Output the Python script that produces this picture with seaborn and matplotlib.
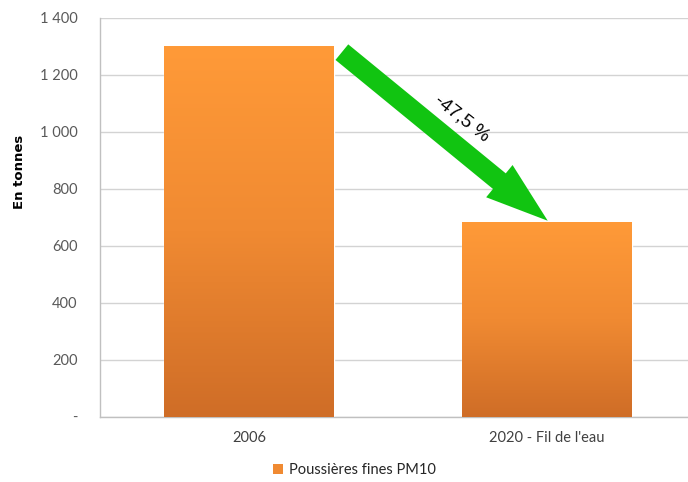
import numpy as np
import pandas as pd
import matplotlib
matplotlib.use("Agg")
import matplotlib.pyplot as plt
import matplotlib.colors as mcolors
from matplotlib.patches import FancyArrowPatch, Patch
from matplotlib.ticker import FuncFormatter
import seaborn as sns

categories = ["2006", "2020 - Fil de l'eau"]
emissions = [1300, 682.5]
series_name = "Poussières fines PM10"
change_label = "-47,5 %"
y_ticks = [0, 200, 400, 600, 800, 1000, 1200, 1400]

sns.set_style("white")
plt.rcParams["font.family"] = ["Lato", "DejaVu Sans"]

fig = plt.figure(figsize=(6.88, 4.82), dpi=100)
ax = fig.add_axes([0.1453, 0.1355, 0.866, 0.8272])

df = pd.DataFrame({"cat": categories, "val": emissions})
sns.barplot(data=df, x="cat", y="val", color="#F7923A", width=0.57,
            saturation=1, ax=ax, zorder=2)

ax.set_xlim(-0.5, 1.5)
ax.set_ylim(0, 1400)
ax.set_yticks(y_ticks)
ax.yaxis.set_major_formatter(
    FuncFormatter(lambda v, p: "-" if v == 0 else f"{int(v):,}".replace(",", " ")))
ax.grid(axis="y", color="#D3D3D3", lw=1, zorder=0)
ax.set_axisbelow(True)
ax.tick_params(axis="both", length=0, labelsize=10.5, colors="#595959")
ax.tick_params(axis="x", pad=10, colors="#404040", labelsize=10.5)
ax.tick_params(axis="y", pad=16)
for s in ["top", "right"]:
    ax.spines[s].set_visible(False)
for s in ["left", "bottom"]:
    ax.spines[s].set_color("#C0C0C0")
    ax.spines[s].set_linewidth(1)
ax.set_xlabel("")
ax.set_ylabel("En tonnes", fontsize=9.5, fontweight="bold", color="black",
              family=["DejaVu Sans"])
ax.yaxis.set_label_coords(-0.124, 0.615)

# vertical orange gradient inside each bar
cmap = mcolors.LinearSegmentedColormap.from_list("bar", ["#CF6D27", "#F08A32", "#FF9A38"])
grad = np.linspace(0, 1, 256).reshape(-1, 1)
for patch in list(ax.patches):
    x0, y0 = patch.get_x(), patch.get_y()
    w, h = patch.get_width(), patch.get_height()
    im = ax.imshow(grad, cmap=cmap, origin="lower", aspect="auto",
                   extent=[x0, x0 + w, y0, y0 + h], zorder=3)
    im.set_clip_path(patch)
ax.set_xlim(-0.5, 1.5)
ax.set_ylim(0, 1400)

# green arrow showing the decrease
arrow = FancyArrowPatch((0.312, 1280), (1.003, 688),
                        arrowstyle="simple,head_length=45,head_width=30,tail_width=14.5",
                        mutation_scale=1, color="#11C411", lw=0, zorder=5,
                        shrinkA=0, shrinkB=0)
ax.add_patch(arrow)
ax.text(0.715, 1049, change_label, rotation=-38, ha="center", va="center",
        fontsize=13.5, family=["Liberation Sans", "DejaVu Sans"], color="black", zorder=6)

handle = Patch(facecolor="#F08A32", edgecolor="none")
fig.legend([handle], [series_name], loc="center", bbox_to_anchor=(0.515, 0.025),
           frameon=False, fontsize=10.5, handlelength=0.7, handleheight=0.7,
           handletextpad=0.4, labelcolor="#262626")

fig.savefig("out.png", dpi=100)
